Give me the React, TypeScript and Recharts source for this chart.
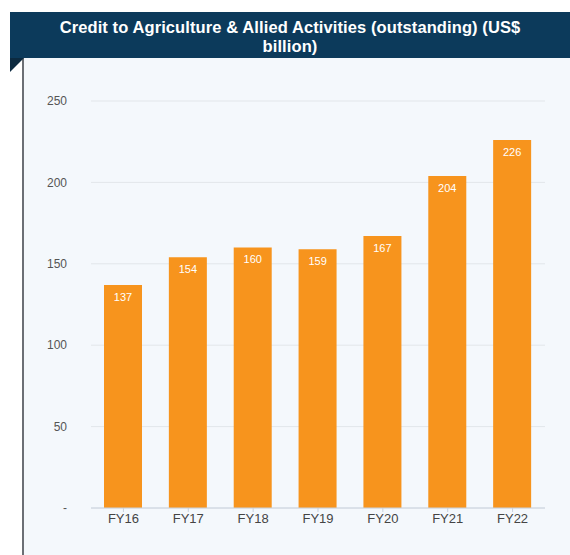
import React from "react";
import { BarChart, Bar, XAxis, YAxis, CartesianGrid, LabelList } from "recharts";

const categories = ["FY16", "FY17", "FY18", "FY19", "FY20", "FY21", "FY22"];
const values = [137, 154, 160, 159, 167, 204, 226];
const yTicks = [0, 50, 100, 150, 200, 250];
const title1 = "Credit to Agriculture & Allied Activities (outstanding) (US$";
const title2 = "billion)";

const data = categories.map((c, i) => ({ name: c, value: values[i] }));

export default function App() {
  return (
    <div style={{ position: "absolute", left: 0, top: 0, width: 570, height: 555, background: "#ffffff", overflow: "hidden", fontFamily: "'Liberation Sans', Arial, sans-serif" }}>
      <div style={{ position: "absolute", left: 22, top: 58, width: 548, height: 497, background: "#f4f8fc" }} />
      <div style={{ position: "absolute", left: 22, top: 58, width: 2, height: 497, background: "#6b6f75" }} />
      <div style={{ position: "absolute", left: 10, top: 12, width: 560, height: 46, background: "#0c3a5b", color: "#ffffff", fontWeight: 700, fontSize: 16.5, lineHeight: "19px", textAlign: "center", paddingTop: 6, boxSizing: "border-box", letterSpacing: 0.1 }}>
        <div>{title1}</div>
        <div>{title2}</div>
      </div>
      <div style={{ position: "absolute", left: 10, top: 58, width: 0, height: 0, borderTop: "14px solid #0c2a40", borderLeft: "0px solid transparent", borderRight: "14px solid transparent" }} />
      <div style={{ position: "absolute", left: 0, top: 0 }}>
        <BarChart width={570} height={555} data={data} margin={{ top: 101, right: 25, bottom: 17, left: 0 }} barSize={38}>
          <CartesianGrid vertical={false} stroke="#e2e6ea" />
          <XAxis dataKey="name" height={30} axisLine={{ stroke: "#c9d2de" }} tickLine={{ stroke: "#c9d2de" }} tickSize={4} tick={{ fill: "#444", fontSize: 13 }} interval={0} />
          <YAxis domain={[0, 250]} ticks={yTicks} width={91} axisLine={false} tickLine={false} tick={{ fill: "#555", fontSize: 12 }} tickFormatter={(v: number) => (v === 0 ? "-" : String(v))} tickMargin={18} />
          <Bar dataKey="value" fill="#f7941d" isAnimationActive={false}>
            <LabelList dataKey="value" position="insideTop" offset={8} fill="#ffffff" fontSize={11} />
          </Bar>
        </BarChart>
      </div>
    </div>
  );
}
